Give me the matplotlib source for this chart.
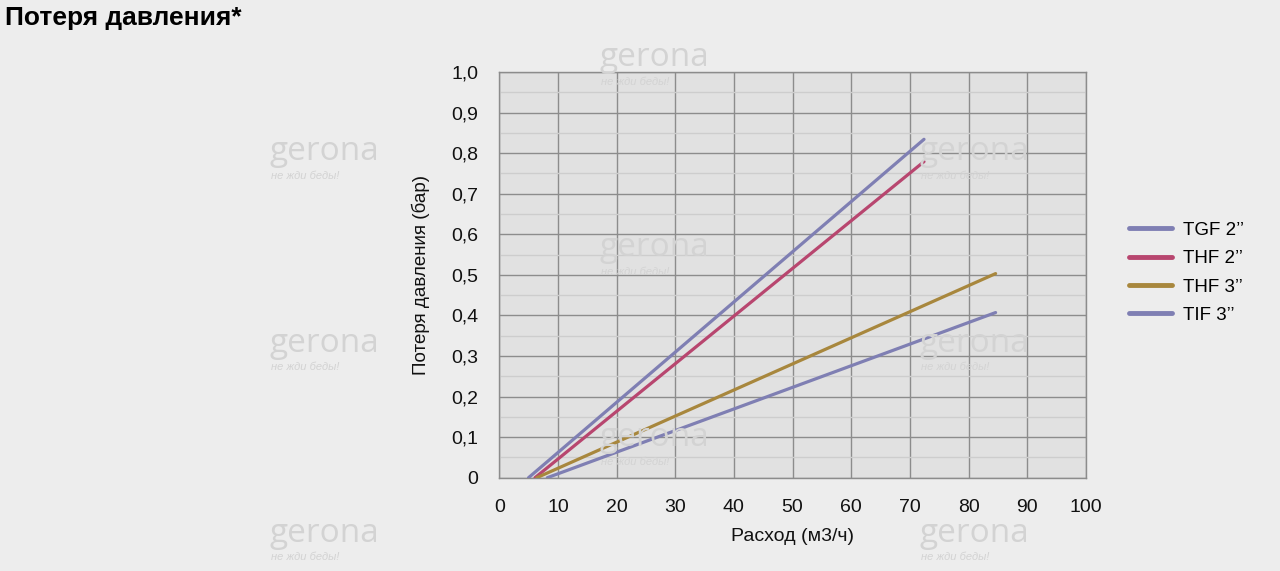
import matplotlib
matplotlib.use("Agg")
import matplotlib.pyplot as plt
from matplotlib.ticker import MultipleLocator, FixedLocator

plt.rcParams['font.family'] = ['Liberation Sans', 'DejaVu Sans']

title = "Потеря давления*"
x_label = "Расход (м3/ч)"
y_label = "Потеря давления (бар)"

series_names = ["TGF 2’’", "THF 2’’", "THF 3’’", "TIF 3’’"]
series_colors = ["#7f7fb3", "#b8466f", "#a8873d", "#7f7fb3"]
series_x = [
    [5.0, 72.4],
    [6.1, 72.4],
    [6.4, 84.6],
    [8.2, 84.6],
]
series_y = [
    [0.0, 0.834],
    [0.0, 0.779],
    [0.0, 0.503],
    [0.0, 0.407],
]

x_ticks = [0, 10, 20, 30, 40, 50, 60, 70, 80, 90, 100]
y_ticks = [0.0, 0.1, 0.2, 0.3, 0.4, 0.5, 0.6, 0.7, 0.8, 0.9, 1.0]
y_tick_labels = ["0", "0,1", "0,2", "0,3", "0,4", "0,5", "0,6", "0,7", "0,8", "0,9", "1,0"]

fig = plt.figure(figsize=(12.8, 5.71), dpi=100, facecolor="#ededed")

# faint watermarks
wm_pos = [(600, 58), (270, 152), (920, 152), (600, 248), (270, 343), (920, 343),
          (600, 438), (270, 533), (920, 533)]
for (px, py) in wm_pos:
    fig.text(px / 1280, 1 - py / 571, "gerona", fontsize=24, color="#d3d3d3",
             family="Open Sans", va="center", ha="left", zorder=0)
    fig.text(px / 1280 + 0.001, 1 - (py + 24) / 571, "не жди беды!", fontsize=8,
             color="#d3d3d3", style="italic", va="center", ha="left", zorder=0)

ax = fig.add_axes([0.390, 0.1634, 0.4584, 0.7106])
ax.set_facecolor("#e1e1e1")
ax.patch.set_alpha(0.92)

for xs, ys, c, n in zip(series_x, series_y, series_colors, series_names):
    ax.plot(xs, ys, color=c, lw=2.3, label=n, solid_capstyle="round", zorder=3)

ax.set_xlim(0, 100)
ax.set_ylim(0, 1.0)
ax.xaxis.set_major_locator(FixedLocator(x_ticks))
ax.yaxis.set_major_locator(FixedLocator(y_ticks))
ax.set_yticklabels(y_tick_labels)
ax.yaxis.set_minor_locator(MultipleLocator(0.05))
ax.grid(which="major", color="#8c8c8c", lw=1.0, zorder=1)
ax.grid(which="minor", axis="y", color="#cdcdcd", lw=1.0, zorder=1)
ax.set_axisbelow(True)
ax.tick_params(which="both", length=0, labelsize=14, colors="#111111")
ax.tick_params(axis="y", pad=15)
ax.tick_params(axis="x", pad=15)
for s in ax.spines.values():
    s.set_color("#8c8c8c")
    s.set_linewidth(1.0)

ax.set_xlabel(x_label, fontsize=14, labelpad=9, color="#111111")
ax.set_ylabel(y_label, fontsize=13.5, labelpad=15, color="#111111")

leg = ax.legend(loc="center left", bbox_to_anchor=(1.045, 0.505), frameon=False,
                fontsize=13.5, handlelength=2.3, handletextpad=0.55, labelspacing=0.6)
for h in leg.get_lines():
    h.set_linewidth(3.5)

fig.text(5 / 1280, 1 - 18 / 571, title, fontsize=19, fontweight="bold",
         va="center", ha="left", color="#000000")

fig.savefig("out.png", dpi=100, facecolor=fig.get_facecolor())
